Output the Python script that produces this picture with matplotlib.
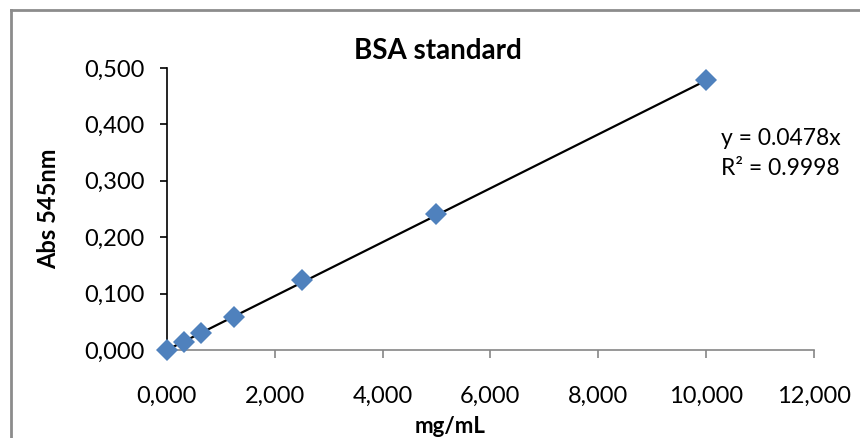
import numpy as np
import matplotlib.pyplot as plt
from matplotlib.lines import Line2D
from matplotlib.ticker import FuncFormatter

# BSA standard curve data
conc = [0, 0.3125, 0.625, 1.25, 2.5, 5, 10]
absorb = [0.000, 0.014, 0.030, 0.059, 0.124, 0.241, 0.478]
slope = 0.0478
r2 = 0.9998
x_ticks = [0, 2, 4, 6, 8, 10, 12]
y_ticks = [0, 0.1, 0.2, 0.3, 0.4, 0.5]

plt.rcParams['font.family'] = ['Lato', 'DejaVu Sans']

fig = plt.figure(figsize=(8.6, 4.38), dpi=100)
ax = fig.add_axes([0.194, 0.2009, 0.7525, 0.6438])

# trendline through origin
xl = np.array([0, 10])
ax.plot(xl, slope * xl, color='black', lw=1.6, zorder=2)
ax.plot(conc, absorb, linestyle='none', marker='D', markersize=11,
        color='#4F81BD', markeredgewidth=0, zorder=3, clip_on=False)

ax.set_xlim(0, 12)
ax.set_ylim(0, 0.5)
ax.set_xticks(x_ticks)
ax.set_yticks(y_ticks)
comma = FuncFormatter(lambda v, p: f'{v:.3f}'.replace('.', ','))
ax.xaxis.set_major_formatter(comma)
ax.yaxis.set_major_formatter(comma)

for s in ['top', 'right']:
    ax.spines[s].set_visible(False)
ax.spines['left'].set_color('black')
ax.spines['left'].set_linewidth(1.2)
ax.spines['bottom'].set_color('#868686')
ax.spines['bottom'].set_linewidth(1.2)
ax.tick_params(axis='y', direction='out', length=5, width=1.2, color='black',
               labelsize=17, pad=11)
ax.tick_params(axis='x', direction='out', length=6, width=1.2, color='#868686',
               labelsize=17, pad=20)

ax.set_xlabel('mg/mL', fontsize=16, fontweight='bold')
ax.xaxis.set_label_coords(0.437, -0.235)
ax.set_ylabel('Abs 545nm', fontsize=17, fontweight='bold', labelpad=17)
fig.text(0.509, 0.884, 'BSA standard', fontsize=20, fontweight='bold',
         ha='center', va='center')
fig.text(0.838, 0.683, f'y = {slope}x', fontsize=16.5, ha='left', va='center')
fig.text(0.838, 0.616, f'R² = {r2}', fontsize=16.5, ha='left', va='center')

# chart area border (only top and left visible in the crop)
fig.add_artist(Line2D([0.0128, 0.0128], [0, 0.977], color='#8c8c8c', lw=2,
                      transform=fig.transFigure))
fig.add_artist(Line2D([0.0128, 1], [0.977, 0.977], color='#8c8c8c', lw=2,
                      transform=fig.transFigure))

fig.savefig('out.png', dpi=100)
